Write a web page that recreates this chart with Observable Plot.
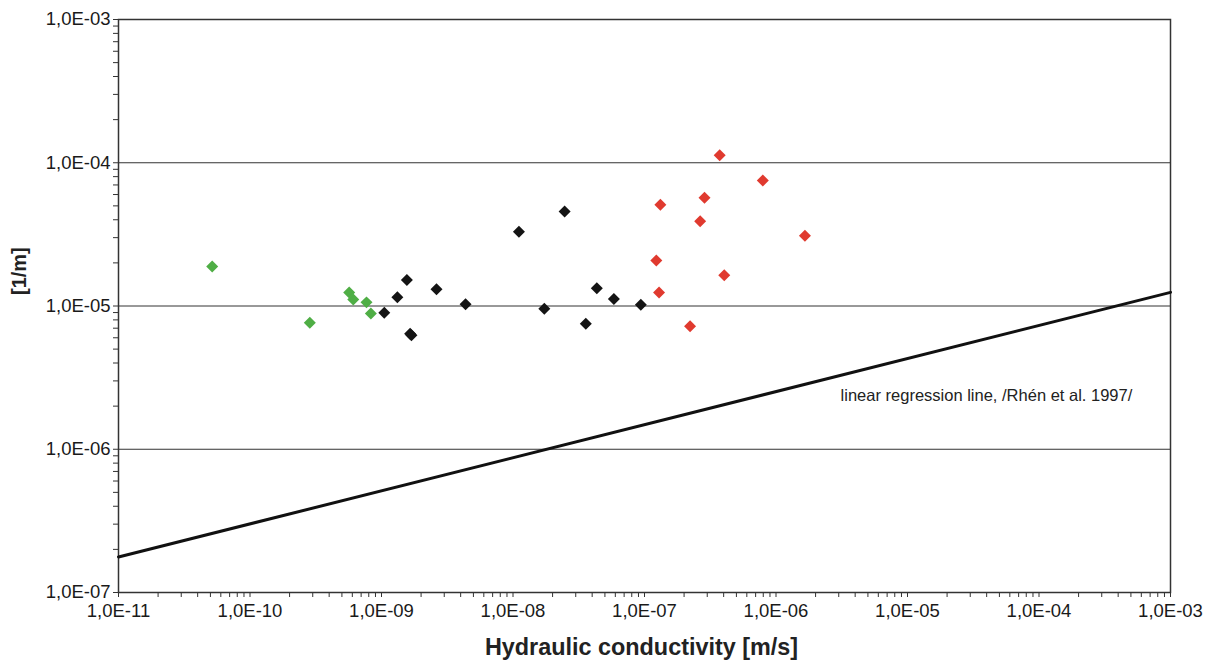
<!DOCTYPE html>
<html>
<head>
<meta charset="utf-8">
<script src="https://cdn.jsdelivr.net/npm/d3@7"></script>
<script src="https://cdn.jsdelivr.net/npm/@observablehq/plot@0.6"></script>
<style>
  html, body { margin: 0; padding: 0; background: #fff; }
  #chart svg { display: block; }
</style>
</head>
<body>
<div id="chart"></div>
<script>
// Hydraulic conductivity K [m/s] and specific value [1/m], by group
const greenK = [5.16e-11, 2.85e-10, 5.68e-10, 6.10e-10, 7.69e-10, 8.30e-10];
const greenV = [1.89e-5, 7.64e-6, 1.24e-5, 1.11e-5, 1.06e-5, 8.87e-6];

const blackK = [1.05e-9, 1.32e-9, 1.56e-9, 1.65e-9, 1.69e-9, 2.62e-9, 4.36e-9, 1.11e-8, 2.47e-8, 1.73e-8, 3.58e-8, 4.34e-8, 5.85e-8, 9.38e-8];
const blackV = [8.97e-6, 1.15e-5, 1.52e-5, 6.41e-6, 6.24e-6, 1.31e-5, 1.03e-5, 3.30e-5, 4.57e-5, 9.57e-6, 7.52e-6, 1.33e-5, 1.12e-5, 1.02e-5];

const redK = [3.73e-7, 7.94e-7, 1.32e-7, 2.86e-7, 2.65e-7, 1.66e-6, 1.23e-7, 4.04e-7, 1.29e-7, 2.22e-7];
const redV = [1.13e-4, 7.52e-5, 5.09e-5, 5.70e-5, 3.91e-5, 3.09e-5, 2.08e-5, 1.64e-5, 1.24e-5, 7.21e-6];

// Regression line endpoints
const regK = [1e-11, 1e-3];
const regV = [1.77e-7, 1.245e-5];

// Axis ticks
const xDecades = [1e-11, 1e-10, 1e-9, 1e-8, 1e-7, 1e-6, 1e-5, 1e-4, 1e-3];
const yDecades = [1e-7, 1e-6, 1e-5, 1e-4, 1e-3];
const gridY = [1e-6, 1e-5, 1e-4];

const annotationText = ["linear regression line, /Rhén et al. 1997/"];
const annotationK = [3.1e-6];
const annotationV = [2.38e-6];

const xTitle = "Hydraulic conductivity [m/s]";
const yTitle = "[1/m]";

const colors = {green: "#4fae45", black: "#141414", red: "#e03a2f"};

// Build tables
const toRows = (K, V, g) => K.map((k, i) => ({k, v: V[i], g}));
const points = [
  ...toRows(greenK, greenV, "green"),
  ...toRows(blackK, blackV, "black"),
  ...toRows(redK, redV, "red")
];
const reg = regK.map((k, i) => ({k, v: regV[i]}));

function withMinors(decades) {
  const out = [];
  for (let i = 0; i < decades.length; i++) {
    out.push(decades[i]);
    if (i < decades.length - 1) for (let m = 2; m <= 9; m++) out.push(decades[i] * m);
  }
  return out;
}
const isDecade = d => Math.abs(Math.log10(d) - Math.round(Math.log10(d))) < 1e-9;
const fmt = d => {
  if (!isDecade(d)) return "";
  const e = Math.round(Math.log10(d));
  return "1,0E" + (e < 0 ? "-" : "+") + String(Math.abs(e)).padStart(2, "0");
};

const chart = Plot.plot({
  width: 1216,
  height: 670,
  marginLeft: 118,
  marginRight: 46,
  marginTop: 19,
  marginBottom: 78,
  style: {fontFamily: "'Liberation Sans', Arial, sans-serif", fontSize: "18px", color: "#1a1a1a", background: "#fff"},
  x: {type: "log", domain: [1e-11, 1e-3]},
  y: {type: "log", domain: [1e-7, 1e-3]},
  marks: [
    Plot.ruleY(gridY, {stroke: "#333", strokeWidth: 1}),
    Plot.frame({stroke: "#333", strokeWidth: 1.5}),
    Plot.axisX(withMinors(xDecades), {tickSize: 5, tickPadding: 6, tickFormat: fmt, label: null, stroke: "#333", fill: "#1a1a1a", fontSize: 18.5}),
    Plot.axisY(withMinors(yDecades), {tickSize: 5, tickPadding: 3, tickFormat: fmt, label: null, stroke: "#333", fill: "#1a1a1a", fontSize: 18.5}),
    Plot.line(reg, {x: "k", y: "v", stroke: "#111", strokeWidth: 3}),
    Plot.dot(points, {x: "k", y: "v", fill: d => colors[d.g], symbol: "diamond2", r: 5.4, stroke: null}),
    Plot.text(annotationText, {x: annotationK, y: annotationV, text: d => d, textAnchor: "start", fontSize: 16.5, fill: "#222"}),
    Plot.text([xTitle], {frameAnchor: "bottom", dy: 62, text: d => d, fontWeight: "bold", fontSize: 23.4, fill: "#222", dx: -3}),
    Plot.text([yTitle], {frameAnchor: "left", dx: -99, dy: -11, rotate: -90, text: d => d, fontWeight: "bold", fontSize: 20, fill: "#222"})
  ]
});
document.getElementById("chart").appendChild(chart);
</script>
</body>
</html>
